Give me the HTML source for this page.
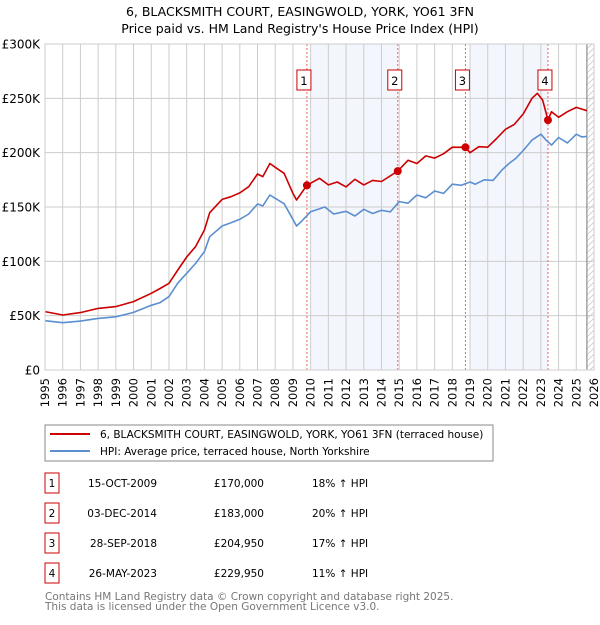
<!DOCTYPE html>
<html><head><meta charset="utf-8"><style>
body{margin:0;background:#fff;font-family:"Liberation Sans","DejaVu Sans",sans-serif;}
svg text{font-family:"DejaVu Sans","Liberation Sans",sans-serif;}
</style></head><body>
<svg id="c" width="600" height="620" xmlns="http://www.w3.org/2000/svg">
<text x="300" y="16" text-anchor="middle" font-size="12.5">6, BLACKSMITH COURT, EASINGWOLD, YORK, YO61 3FN</text>
<text x="300" y="33" text-anchor="middle" font-size="12.5">Price paid vs. HM Land Registry's House Price Index (HPI)</text>
<g id="plot"></g>
<rect x="45" y="425" width="448" height="36" fill="#fff" stroke="#888"/>
<line x1="50" y1="434" x2="90" y2="434" stroke="#cc0000" stroke-width="2"/>
<text x="100" y="438" font-size="10.5">6, BLACKSMITH COURT, EASINGWOLD, YORK, YO61 3FN (terraced house)</text>
<line x1="50" y1="451" x2="90" y2="451" stroke="#5b8fd0" stroke-width="2"/>
<text x="100" y="455" font-size="10.5">HPI: Average price, terraced house, North Yorkshire</text>
<g id="tbl" font-size="10.5"></g>
<text x="45" y="600" font-size="10.5" fill="#777">Contains HM Land Registry data © Crown copyright and database right 2025.</text>
<text x="45" y="610" font-size="10.5" fill="#777">This data is licensed under the Open Government Licence v3.0.</text>
</svg>
<script>
const hpiYears=[1995,1996,1997,1998,1999,2000,2001,2001.5,2002,2002.5,2003,2003.5,2004,2004.3,2005,2005.5,2006,2006.5,2007,2007.3,2007.7,2008,2008.5,2009,2009.2,2009.5,2010,2010.8,2011.3,2012,2012.5,2013,2013.5,2014,2014.5,2015,2015.5,2016,2016.5,2017,2017.5,2018,2018.5,2019,2019.3,2019.8,2020.3,2020.8,2021.2,2021.6,2022,2022.5,2023,2023.3,2023.6,2024,2024.5,2025,2025.3,2025.6];
const hpiValues=[45.4,43.5,45,47.5,49,53,59.5,62,67.5,80,89,98,109,122.7,132.5,135.5,138.7,143.6,152.8,151,161,158,153,138.7,132.5,137,145.7,150,143.6,146,141.7,147.9,144,147,145.5,155,153.5,161,158.5,164.7,162.5,171,170,173,171,175,174.5,184,190,195,202,211.6,217,211.5,207,214,209,217,214.5,215];
const redYears=[1995,1996,1997,1998,1999,2000,2001,2001.5,2002,2002.5,2003,2003.5,2004,2004.3,2005,2005.5,2006,2006.5,2007,2007.3,2007.7,2008,2008.5,2009,2009.2,2009.79,2010.5,2011,2011.5,2012,2012.5,2013,2013.5,2014,2014.92,2015.5,2016,2016.5,2017,2017.5,2018,2018.74,2019,2019.5,2020,2020.5,2021,2021.5,2022,2022.5,2022.8,2023.1,2023.4,2023.6,2024,2024.5,2025,2025.6];
const redValues=[53.7,50.6,52.8,56.7,58.3,62.9,70.6,75,79.8,92,104,113.5,128.8,144.8,157,159.5,163,168.7,180.4,178,190,186.5,181,162.6,156.4,170,176.4,170.3,173,168.5,175.5,170.3,174.5,173.5,183,193,190,197,195,199,205,204.95,200,205.5,205,213,221.5,226,235.6,250,254.6,248.5,229.95,237.7,232.5,237.7,241.7,238.6];
const saleLabels=["1","2","3","4"];
const saleYears=[2009.79,2014.92,2018.74,2023.4];
const salePrices=[170,183,204.95,229.95];
const saleDates=["15-OCT-2009","03-DEC-2014","28-SEP-2018","26-MAY-2023"];
const salePriceText=["£170,000","£183,000","£204,950","£229,950"];
const saleHpiText=["18% ↑ HPI","20% ↑ HPI","17% ↑ HPI","11% ↑ HPI"];
const yTicks=[0,50,100,150,200,250,300];
const yTickLabels=["£0","£50K","£100K","£150K","£200K","£250K","£300K"];
const xTicks=[1995,1996,1997,1998,1999,2000,2001,2002,2003,2004,2005,2006,2007,2008,2009,2010,2011,2012,2013,2014,2015,2016,2017,2018,2019,2020,2021,2022,2023,2024,2025,2026];
const dataEnd=2025.6;

const NS="http://www.w3.org/2000/svg";
const X0=45,X1=594,Y0=370,Y1=44;
const xs=y=>X0+(y-1995)/(2026-1995)*(X1-X0);
const ys=v=>Y0-v/300*(Y0-Y1);
function mk(tag,attrs,parent){const e=document.createElementNS(NS,tag);for(const k in attrs)e.setAttribute(k,attrs[k]);parent.appendChild(e);return e;}
const P=document.getElementById('plot');
const defs=mk('defs',{},P);
const pat=mk('pattern',{id:'hatch',width:6,height:6,patternUnits:'userSpaceOnUse'},defs);
mk('line',{x1:0,y1:6,x2:6,y2:0,stroke:'#ccc','stroke-width':0.8},pat);
for(let i=0;i<saleYears.length;i+=2){
  const st=Math.ceil(saleYears[i]);
  const r=mk('rect',{x:xs(st),y:Y1,width:xs(saleYears[i+1])-xs(st),height:Y0-Y1,fill:'#f3f6fd'},P);
  
  
}
const h=mk('rect',{x:xs(dataEnd),y:Y1,width:X1-xs(dataEnd),height:Y0-Y1,fill:'url(#hatch)'},P);


xTicks.forEach((t,i)=>{
  const l=mk('line',{x1:xs(t),x2:xs(t),y1:Y1,y2:Y0,stroke:'#ccc','stroke-width':1},P);
  
  
  const tx=mk('text',{x:0,y:0,'font-size':11.5,'text-anchor':'end',transform:`translate(${xs(t)+4},${Y0+8}) rotate(-90)`},P);
  tx.textContent=t;
  
  
});
yTicks.forEach((t,i)=>{
  const l=mk('line',{x1:X0,x2:X1,y1:ys(t),y2:ys(t),stroke:'#ccc','stroke-width':1},P);
  
  
  const tx=mk('text',{x:40,y:ys(t)+4.5,'font-size':12,'text-anchor':'end'},P);
  tx.textContent=yTickLabels[i];
  
  
});
const de=mk('line',{x1:xs(dataEnd),x2:xs(dataEnd),y1:Y1,y2:Y0,stroke:'#777','stroke-width':1},P);


saleYears.forEach((s,i)=>{
  const l=mk('line',{x1:xs(s),x2:xs(s),y1:Y1,y2:Y0,stroke:'#f06060','stroke-width':1,'stroke-dasharray':'2,2'},P);
  
  
});
function path(xa,va,col,name){
  const d=xa.map((x,i)=>(i?'L':'M')+xs(x).toFixed(1)+','+ys(va[i]).toFixed(1)).join('');
  const p=mk('path',{d:d,fill:'none',stroke:col,'stroke-width':1.6,'stroke-linejoin':'round'},P);
  
  
}
path(hpiYears,hpiValues,'#5b8fd0','hpi-line');
path(redYears,redValues,'#cc0000','property-price-line');
saleYears.forEach((s,i)=>{
  const c=mk('circle',{cx:xs(s),cy:ys(salePrices[i]),r:4,fill:'#cc0000'},P);
  
  
  const bx=xs(s)-3;
  const g=mk('g',{},P);
  
  
  mk('rect',{x:bx-7,y:70,width:14,height:20,fill:'#fff',stroke:'#cc0000'},g);
  const t=mk('text',{x:bx,y:85,'font-size':11.5,'text-anchor':'middle'},g);
  t.textContent=saleLabels[i];
});
mk('rect',{x:X0,y:Y1,width:X1-X0,height:Y0-Y1,fill:'none',stroke:'#ccc'},P);
const T=document.getElementById('tbl');
saleLabels.forEach((lab,i)=>{
  const y=483+i*30;
  const g=mk('g',{},T);
  
  
  mk('rect',{x:45,y:y-10,width:14,height:20,fill:'#fff',stroke:'#cc0000'},g);
  const a=mk('text',{x:52,y:y+4,'text-anchor':'middle'},g);a.textContent=lab;
  const b=mk('text',{x:157,y:y+4,'text-anchor':'end'},g);b.textContent=saleDates[i];
  const c=mk('text',{x:264,y:y+4,'text-anchor':'end'},g);c.textContent=salePriceText[i];
  const d=mk('text',{x:312,y:y+4},g);d.textContent=saleHpiText[i];
});
</script>
</body></html>
